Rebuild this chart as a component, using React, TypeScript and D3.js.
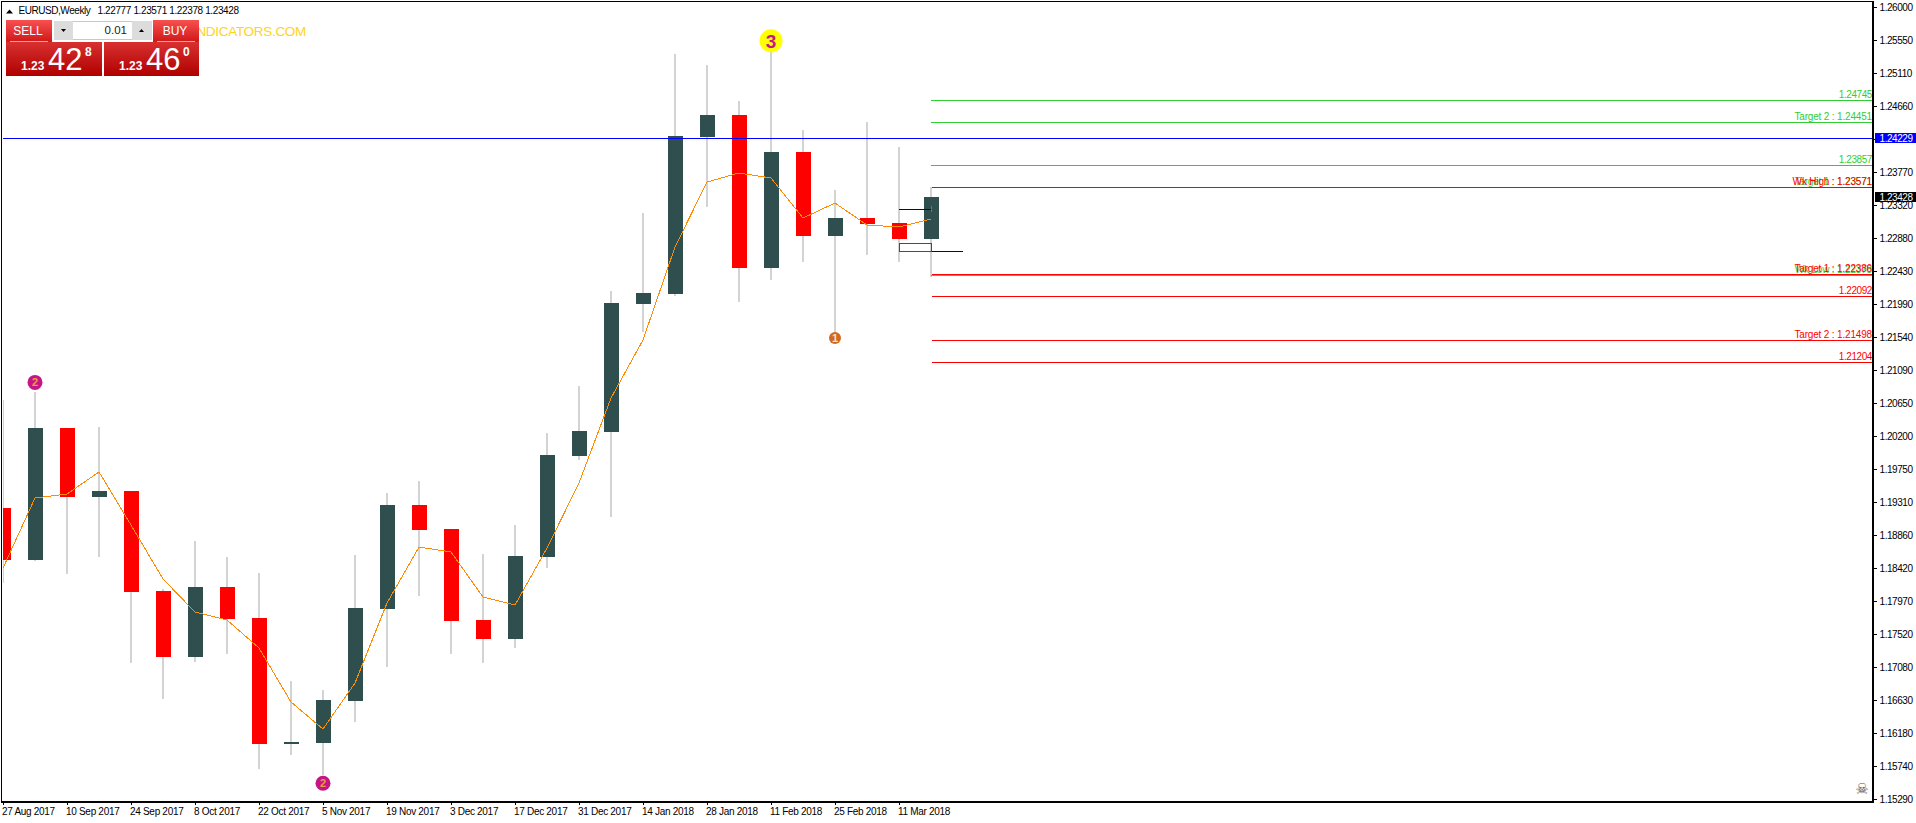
import React from "react";
import * as d3 from "d3";

const W = 1916, H = 823;
const opens =  [1.19232,1.18529,1.20314,1.19380,1.19462,1.18109,1.17217,1.18163,1.17744,1.16040,1.16054,1.16622,1.17866,1.19272,1.18948,1.17717,1.17460,1.18569,1.19935,1.20260,1.21990,1.22126,1.24249,1.24546,1.22477,1.24046,1.22910,1.23153,1.23086,1.22869];
const highs =  [1.20692,1.20800,1.20314,1.20327,1.19462,1.18136,1.18786,1.18569,1.18353,1.16892,1.16771,1.18596,1.19435,1.19597,1.18948,1.18610,1.19002,1.20246,1.20882,1.22166,1.23221,1.25371,1.25222,1.24736,1.25506,1.24343,1.23532,1.24452,1.24114,1.23573];
const lows =   [1.18218,1.18515,1.18339,1.18569,1.17136,1.16649,1.17149,1.17257,1.15702,1.15892,1.15621,1.16338,1.17082,1.18042,1.17257,1.17136,1.17339,1.18420,1.19881,1.19110,1.21612,1.22099,1.23302,1.22018,1.22315,1.22558,1.21531,1.22653,1.22558,1.22356];
const closes = [1.18529,1.20314,1.19380,1.19462,1.18096,1.17217,1.18163,1.17731,1.16040,1.16067,1.16635,1.17880,1.19272,1.18934,1.17704,1.17460,1.18583,1.19948,1.20273,1.22004,1.22139,1.24262,1.24546,1.22477,1.24046,1.22910,1.23153,1.23072,1.22869,1.23437];
const maValues = [1.18420,1.19367,1.19421,1.19719,1.19002,1.18272,1.17825,1.17717,1.17339,1.16608,1.16243,1.16865,1.17947,1.18704,1.18637,1.18028,1.17920,1.18691,1.19570,1.20719,1.21504,1.22761,1.23640,1.23762,1.23694,1.23153,1.23356,1.23059,1.23032,1.23140];
const priceTicks = ["1.26000","1.25550","1.25110","1.24660","1.24210","1.23770","1.23320","1.22880","1.22430","1.21990","1.21540","1.21090","1.20650","1.20200","1.19750","1.19310","1.18860","1.18420","1.17970","1.17520","1.17080","1.16630","1.16180","1.15740","1.15290"];
const dateTicks = ["27 Aug 2017","10 Sep 2017","24 Sep 2017","8 Oct 2017","22 Oct 2017","5 Nov 2017","19 Nov 2017","3 Dec 2017","17 Dec 2017","31 Dec 2017","14 Jan 2018","28 Jan 2018","11 Feb 2018","25 Feb 2018","11 Mar 2018"];
const greenLevels: [number, string][] = [[1.24745,"1.24745"],[1.24451,"Target 2 : 1.24451"],[1.23857,"1.23857"],[1.22378,"Wk Low : 1.22378"]];
const greenOnlyLabels: [number, string][] = [[1.23571,"Target 1 : 1.23571"]];
const redLevels: [number, string][] = [[1.23571,"Wk High : 1.23571"],[1.22386,"Target 1 : 1.22386"],[1.22092,"1.22092"],[1.21498,"Target 2 : 1.21498"],[1.21204,"1.21204"]];
const markers: [number, number, string, number, string, string][] = [[1,1.20930,"2",7.5,"#c71585","#e8a040"],[10,1.15510,"2",7.5,"#c71585","#e8a040"],[24,1.25550,"3",11.5,"#ffff00","#c71585"],[26,1.21531,"1",6,"#d2691e","#f0e0d0"]];
const horizontalPrice = 1.24229, lastPrice = 1.23428;

const FONT = "'Liberation Sans', Arial, sans-serif";
const x = d3.scaleLinear().domain([0, 29]).range([3, 931]);
const y = d3.scaleLinear().domain([1.1529, 1.26]).range([799.5, 7.5]);
const Y = (p: number) => Math.round(y(p));
const F = (p: number) => Math.floor(y(p));
const DARK = "#2f4f4f", RED = "#ff0000", WICK = "#d3d3d3", GREEN = "#32cd32";
const AXIS_X = 1873, BOTTOM = 802;
const NUM_SP = -0.43;
const labelSpacing = (t: string) => (t.includes(" ") ? -0.17 : NUM_SP);

const maPath = d3.line<number>().x((_, i) => x(i)).y((d) => y(d))(maValues) as string;

function Price({ x0, big, small }: { x0: number; big: string; small: string }) {
  return (
    <g fill="#fff" fontFamily={FONT}>
      <text x={x0} y={70} fontSize={12} fontWeight={700}>1.23</text>
      <text x={x0 + 27} y={70} fontSize={31}>{big}</text>
      <text x={x0 + 64} y={56} fontSize={12} fontWeight={700}>{small}</text>
    </g>
  );
}

export default function App() {
  return (
    <svg width={W} height={H} viewBox={`0 0 ${W} ${H}`} style={{ position: "absolute", left: 0, top: 0, background: "#fff" }}>
      <defs>
        <linearGradient id="btn" x1="0" x2="0" y1="0" y2="1">
          <stop offset="0" stopColor="#f85050" /><stop offset="1" stopColor="#d01818" />
        </linearGradient>
        <linearGradient id="pr" x1="0" x2="0" y1="0" y2="1">
          <stop offset="0" stopColor="#d83030" /><stop offset="1" stopColor="#b00000" />
        </linearGradient>
        <clipPath id="plot"><rect x={3} y={3} width={AXIS_X - 3} height={BOTTOM - 3} /></clipPath>
      </defs>

      <g clipPath="url(#plot)" shapeRendering="crispEdges">
        {opens.map((o, i) => (
          <rect key={i} x={Math.round(x(i)) - 1} width={2} y={Y(highs[i])} height={Y(lows[i]) - Y(highs[i])} fill={WICK} />
        ))}
        {opens.map((o, i) => {
          const top = Y(Math.max(o, closes[i])), bot = Y(Math.min(o, closes[i]));
          return <rect key={i} x={Math.round(x(i)) - 7} width={15} y={top} height={Math.max(bot - top, 1)} fill={closes[i] >= o ? DARK : RED} />;
        })}
        <path d={maPath} fill="none" stroke="#ff8c00" strokeWidth={1} />
        <rect x={0} y={F(horizontalPrice)} width={AXIS_X} height={1} fill="#0000ff" />
        {greenLevels.map(([p]) => <rect key={p} x={x(29)} y={F(p)} width={AXIS_X - x(29)} height={1} fill={GREEN} />)}
        {redLevels.map(([p]) => <rect key={p} x={x(29) + 1} y={F(p)} width={AXIS_X - x(29)} height={1} fill={RED} />)}
        <rect x={x(28)} y={F(1.23271)} width={32} height={1} fill="#00008b" />
        <rect x={x(29)} y={F(1.22703)} width={32} height={1} fill="#00008b" />
        <rect x={x(28) + 0.5} y={Y(1.22815) + 0.5} width={32} height={Y(1.22711) - Y(1.22815)} fill="none" stroke={RED} />
        <rect x={x(29)} y={Y(1.23316)} width={1} height={Y(1.23235) - Y(1.23316)} fill="#3c8c64" />
      </g>

      {markers.map(([i, p, label, r, fill, color], k) => (
        <g key={k}>
          <circle cx={x(i)} cy={y(p)} r={r} fill={fill} />
          <text x={x(i)} y={y(p) + (r > 10 ? 7 : 4)} textAnchor="middle" fontFamily={FONT} fontSize={r > 10 ? 19 : 11} fontWeight={700} fill={color}>{label}</text>
        </g>
      ))}

      <g fontFamily={FONT} fontSize={10} textAnchor="end">
        {[...greenLevels, ...greenOnlyLabels].map(([p, t]) => <text key={t} x={1872} y={F(p) - 2.5} fill={GREEN} letterSpacing={labelSpacing(t)}>{t}</text>)}
        {redLevels.map(([p, t]) => <text key={t} x={1872} y={F(p) - 2.5} fill={RED} letterSpacing={labelSpacing(t)}>{t}</text>)}
      </g>

      <rect x={1.5} y={1.5} width={AXIS_X - 1.5} height={BOTTOM - 1.5} fill="none" stroke="#000" strokeWidth={1.5} shapeRendering="crispEdges" />

      <g fontFamily={FONT} fontSize={10} letterSpacing={NUM_SP} fill="#000">
        {priceTicks.map((t) => (
          <g key={t}>
            <rect x={AXIS_X} y={F(+t)} width={4} height={1} fill="#000" />
            <text x={1879.5} y={F(+t) + 4}>{t}</text>
          </g>
        ))}
        <rect x={1875} y={F(horizontalPrice) - 5} width={41} height={10} fill="#0000ff" />
        <text x={1879.5} y={F(horizontalPrice) + 4} fill="#fff">1.24229</text>
        <rect x={1875} y={F(lastPrice) - 5} width={41} height={10} fill="#000" />
        <text x={1879.5} y={F(lastPrice) + 4} fill="#fff">1.23428</text>
      </g>

      <g fontFamily={FONT} fontSize={10} letterSpacing={-0.3}>
        {dateTicks.map((t, i) => (
          <g key={t}>
            <rect x={Math.round(x(i * 2))} y={BOTTOM} width={1} height={3} fill="#000" />
            <text x={x(i * 2) - 1} y={815}>{t}</text>
          </g>
        ))}
      </g>

      <text x={1862} y={794} textAnchor="middle" fontFamily="'DejaVu Sans'" fontSize={15} fill="#555">☠</text>

      {/* chart header */}
      <path d="M6,13.5 L13,13.5 L9.5,9.5 Z" fill="#000" />
      <text x={18.5} y={14} fontFamily={FONT} fontSize={10} letterSpacing={-0.45} fill="#000">EURUSD,Weekly</text>
      <text x={97.5} y={14} fontFamily={FONT} fontSize={10} letterSpacing={-0.38} fill="#000">1.22777 1.23571 1.22378 1.23428</text>
      <text x={306} y={36} textAnchor="end" fontFamily={FONT} fontSize={13.5} letterSpacing={-0.3} fill="#ffd21e">NDICATORS.COM</text>

      {/* trade panel */}
      <rect x={52} y={20} width={101} height={22} fill="#fff" />
      <rect x={54.5} y={21.5} width={97} height={18} fill="#fff" stroke="#c8c8c8" shapeRendering="crispEdges" />
      <rect x={54} y={21} width={19} height={19} fill="#dcdcdc" />
      <rect x={132} y={21} width={20} height={19} fill="#dcdcdc" />
      <path d="M61,29 L66,29 L63.5,32 Z" fill="#000" />
      <path d="M139,32 L144,32 L141.5,29 Z" fill="#000" />
      <text x={127} y={34} textAnchor="end" fontFamily={FONT} fontSize={11.5} fill="#222">0.01</text>

      <rect x={6} y={20} width={46} height={22} fill="url(#btn)" />
      <rect x={153} y={20} width={46} height={22} fill="url(#btn)" />
      <rect x={10} y={41} width={38} height={1} fill="#f6a0a0" />
      <rect x={157} y={41} width={38} height={1} fill="#f6a0a0" />
      <text x={28} y={35} textAnchor="middle" fontFamily={FONT} fontSize={12} fill="#fff">SELL</text>
      <text x={175} y={35} textAnchor="middle" fontFamily={FONT} fontSize={12} fill="#fff">BUY</text>
      <rect x={6} y={42} width={96} height={34} fill="url(#pr)" />
      <rect x={104} y={42} width={95} height={34} fill="url(#pr)" />
      <Price x0={21} big="42" small="8" />
      <Price x0={119} big="46" small="0" />
    </svg>
  );
}
